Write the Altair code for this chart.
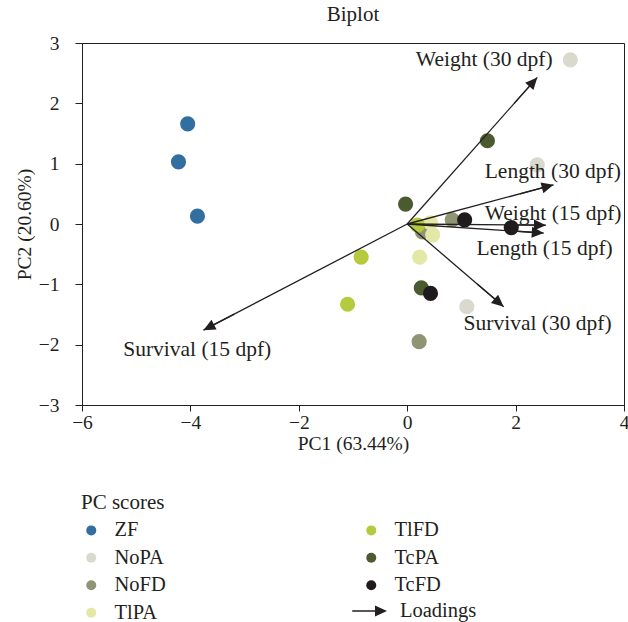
import math
import altair as alt
import pandas as pd

# ---------------- data ----------------
groups = ["ZF", "NoPA", "NoFD", "TlPA", "TlFD", "TcPA", "TcFD"]
group_colors = ["#336ea0", "#d9dacd", "#8f9574", "#e3e8a6", "#b5cb3d", "#4c5a2f", "#1f1b1c"]

score_group = ["ZF", "ZF", "ZF",
               "NoPA", "NoPA", "NoPA",
               "NoFD", "NoFD", "NoFD",
               "TlPA", "TlPA", "TlPA",
               "TlFD", "TlFD", "TlFD",
               "TcPA", "TcPA", "TcPA",
               "TcFD", "TcFD", "TcFD"]
score_pc1 = [-4.05, -4.22, -3.87,
             3.01, 2.40, 1.10,
             0.22, 0.83, 0.28,
             0.23, 0.43, 0.47,
             -0.85, -1.10, 0.19,
             -0.03, 1.48, 0.26,
             1.06, 1.92, 0.43]
score_pc2 = [1.66, 1.03, 0.13,
             2.72, 0.98, -1.37,
             -1.95, 0.07, -0.13,
             -0.55, 0.02, -0.18,
             -0.55, -1.33, -0.02,
             0.33, 1.38, -1.06,
             0.07, -0.06, -1.15]

loading_names = ["Weight (30 dpf)", "Length (30 dpf)", "Weight (15 dpf)",
                 "Length (15 dpf)", "Survival (30 dpf)", "Survival (15 dpf)"]
loading_pc1 = [2.40, 2.70, 2.56, 2.52, 1.78, -3.76]
loading_pc2 = [2.43, 0.65, -0.02, -0.15, -1.37, -1.76]
label_pc1 = [0.16, 1.43, 1.43, 1.28, 1.04, -5.24]
label_pc2 = [2.72, 0.87, 0.17, -0.41, -1.66, -2.09]

x_ticks = [-6, -4, -2, 0, 2, 4]
y_ticks = [-3, -2, -1, 0, 1, 2, 3]

# ---------------- layout / style ----------------
W, H = 542, 362
XDOM, YDOM = [-6, 4], [-3, 3]
FONT = "Liberation Serif"
TXT = "#231f20"
ARROW = "M0,0 L-1,-0.46 L-1,-0.055 L-2.9,-0.055 L-2.9,0.055 L-1,0.055 L-1,0.46 Z"

scores = pd.DataFrame({"group": score_group, "pc1": score_pc1, "pc2": score_pc2})

px_x = W / (XDOM[1] - XDOM[0])
px_y = H / (YDOM[1] - YDOM[0])
angles = [math.degrees(math.atan2(-y * px_y, x * px_x)) % 360
          for x, y in zip(loading_pc1, loading_pc2)]
loadings = pd.DataFrame({
    "name": loading_names, "pc1": loading_pc1, "pc2": loading_pc2,
    "x0": [0.0] * len(loading_names), "y0": [0.0] * len(loading_names),
    "lx": label_pc1, "ly": label_pc2, "ang": angles,
    "kind": ["Loadings"] * len(loading_names),
})

xs = alt.Scale(domain=XDOM, nice=False, zero=False)
ys = alt.Scale(domain=YDOM, nice=False, zero=False)

xaxis = alt.Axis(values=x_ticks, title="PC1 (63.44%)", grid=False, tickSize=6,
                 labelFont=FONT, titleFont=FONT, labelFontSize=19.5, titleFontSize=19.5,
                 titleFontWeight="normal", labelColor=TXT, titleColor=TXT,
                 domainColor=TXT, tickColor=TXT, labelPadding=2, titlePadding=3,
                 labelFlush=False)
yaxis = alt.Axis(values=y_ticks, title="PC2 (20.60%)", grid=False, tickSize=7,
                 labelFont=FONT, titleFont=FONT, labelFontSize=19.5, titleFontSize=19.5,
                 titleFontWeight="normal", labelColor=TXT, titleColor=TXT,
                 domainColor=TXT, tickColor=TXT, labelPadding=16, titlePadding=4,
                 labelFlush=False)

X = lambda f: alt.X(f, type="quantitative", scale=xs, axis=xaxis)
Y = lambda f: alt.Y(f, type="quantitative", scale=ys, axis=yaxis)

points = alt.Chart(scores).mark_circle(size=230, opacity=1).encode(
    x=X("pc1"), y=Y("pc2"),
    color=alt.Color("group:N",
                    scale=alt.Scale(domain=groups, range=group_colors),
                    legend=alt.Legend(title="PC scores", orient="none",
                                      legendX=-1, legendY=449, columns=2,
                                      columnPadding=195, rowPadding=6.5,
                                      symbolSize=100, symbolType="circle",
                                      labelFont=FONT, titleFont=FONT,
                                      labelFontSize=20.5, titleFontSize=21,
                                      titleFontWeight="normal",
                                      labelColor=TXT, titleColor=TXT,
                                      labelOffset=13, titlePadding=7, padding=0)),
)

rules = alt.Chart(loadings).mark_rule(color=TXT, strokeWidth=1.3).encode(
    x=X("x0"), y=Y("y0"), x2="pc1:Q", y2="pc2:Q",
)

heads = alt.Chart(loadings).mark_point(filled=True, size=576, color=TXT, opacity=1).encode(
    x=X("pc1"), y=Y("pc2"),
    angle=alt.Angle("ang:Q", scale=None),
    shape=alt.Shape("kind:N",
                    scale=alt.Scale(domain=["Loadings"], range=[ARROW]),
                    legend=alt.Legend(title=None, orient="none",
                                      legendX=292, legendY=555,
                                      symbolSize=576, labelFont=FONT,
                                      labelFontSize=20.5, labelColor=TXT,
                                      labelOffset=0, padding=0)),
)

labels = alt.Chart(loadings).mark_text(align="left", baseline="middle", font=FONT,
                                       fontSize=21.5, color=TXT).encode(
    x=X("lx"), y=Y("ly"), text="name:N",
)

chart = alt.layer(points, rules, heads, labels).properties(
    width=W, height=H,
    title=alt.TitleParams("Biplot", font=FONT, fontSize=21, fontWeight="normal",
                          color=TXT, anchor="middle", frame="group", offset=8),
    autosize=alt.AutoSizeParams(type="none"),
    padding={"left": 82, "top": 43, "right": 4, "bottom": 217},
).configure_view(stroke=TXT, strokeWidth=1)

chart.save("out.html", embed_options={"renderer": "svg", "actions": False})
